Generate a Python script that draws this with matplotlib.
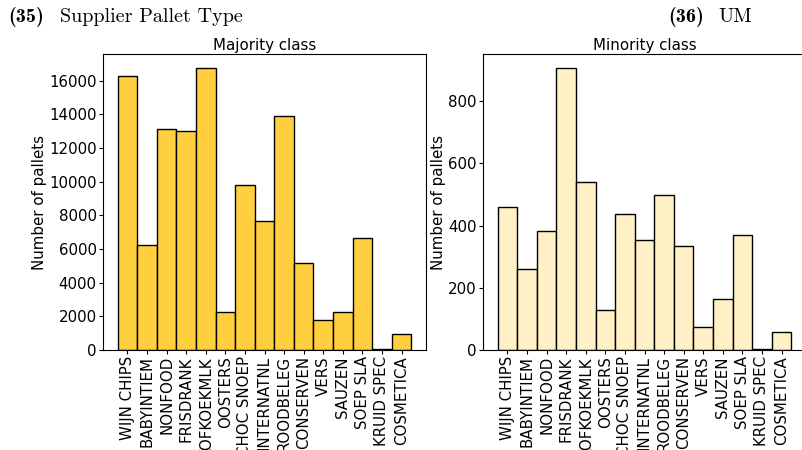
import os
import matplotlib
matplotlib.use("Agg")
import matplotlib.pyplot as plt
from matplotlib.font_manager import FontProperties

categories = ["WIJN CHIPS", "BABYINTIEM", "NONFOOD", "FRISDRANK", "KOFKOEKMLK",
              "OOSTERS", "CHOC SNOEP", "INTERNATNL", "ROODBELEG", "CONSERVEN",
              "VERS", "SAUZEN", "SOEP SLA", "KRUID SPEC", "COSMETICA"]
majority = [16300, 6250, 13130, 12990, 16750, 2270, 9800, 7690, 13880, 5190,
            1780, 2270, 6660, 30, 930]
minority = [461, 260, 382, 906, 541, 130, 438, 352, 497, 334, 73, 164, 371, 2, 57]

fontdir = os.path.join(matplotlib.get_data_path(), "fonts", "ttf")
cm_bold = FontProperties(fname=os.path.join(fontdir, "cmb10.ttf"), size=14.5)
cm_reg = FontProperties(fname=os.path.join(fontdir, "cmr10.ttf"), size=14.5)

fig = plt.figure(figsize=(8.03, 4.5), dpi=100)
W, H = 803, 450

def add_axes(x0, x1, y0, y1):
    return fig.add_axes([x0 / W, 1 - y1 / H, (x1 - x0) / W, (y1 - y0) / H])

fs = 10.8
ax1 = add_axes(103, 426, 54, 350)
ax2 = add_axes(483, 806, 54, 350)

for ax, vals, color, title in [(ax1, majority, "#FFCF3F", "Majority class"),
                               (ax2, minority, "#FFF0C6", "Minority class")]:
    x = list(range(len(categories)))
    ax.bar(x, vals, width=1.0, color=color, edgecolor="black", linewidth=1.0)
    ax.set_xticks(x)
    ax.set_xticklabels(categories, rotation=90, fontsize=fs)
    ax.tick_params(axis='both', labelsize=fs, length=3, pad=1.5)
    ax.set_ylabel("Number of pallets", fontsize=fs, labelpad=1.5)
    ax.set_title(title, fontsize=fs, pad=3)

fig.text(8 / W, 1 - 17 / H, "(35)", fontproperties=cm_bold, ha='left', va='center')
fig.text(60 / W, 1 - 17 / H, "Supplier Pallet Type", fontproperties=cm_reg,
         ha='left', va='center')
fig.text(668 / W, 1 - 17 / H, "(36)", fontproperties=cm_bold, ha='left', va='center')
fig.text(718 / W, 1 - 17 / H, "UM", fontproperties=cm_reg, ha='left', va='center')

fig.savefig("out.png", dpi=100)
